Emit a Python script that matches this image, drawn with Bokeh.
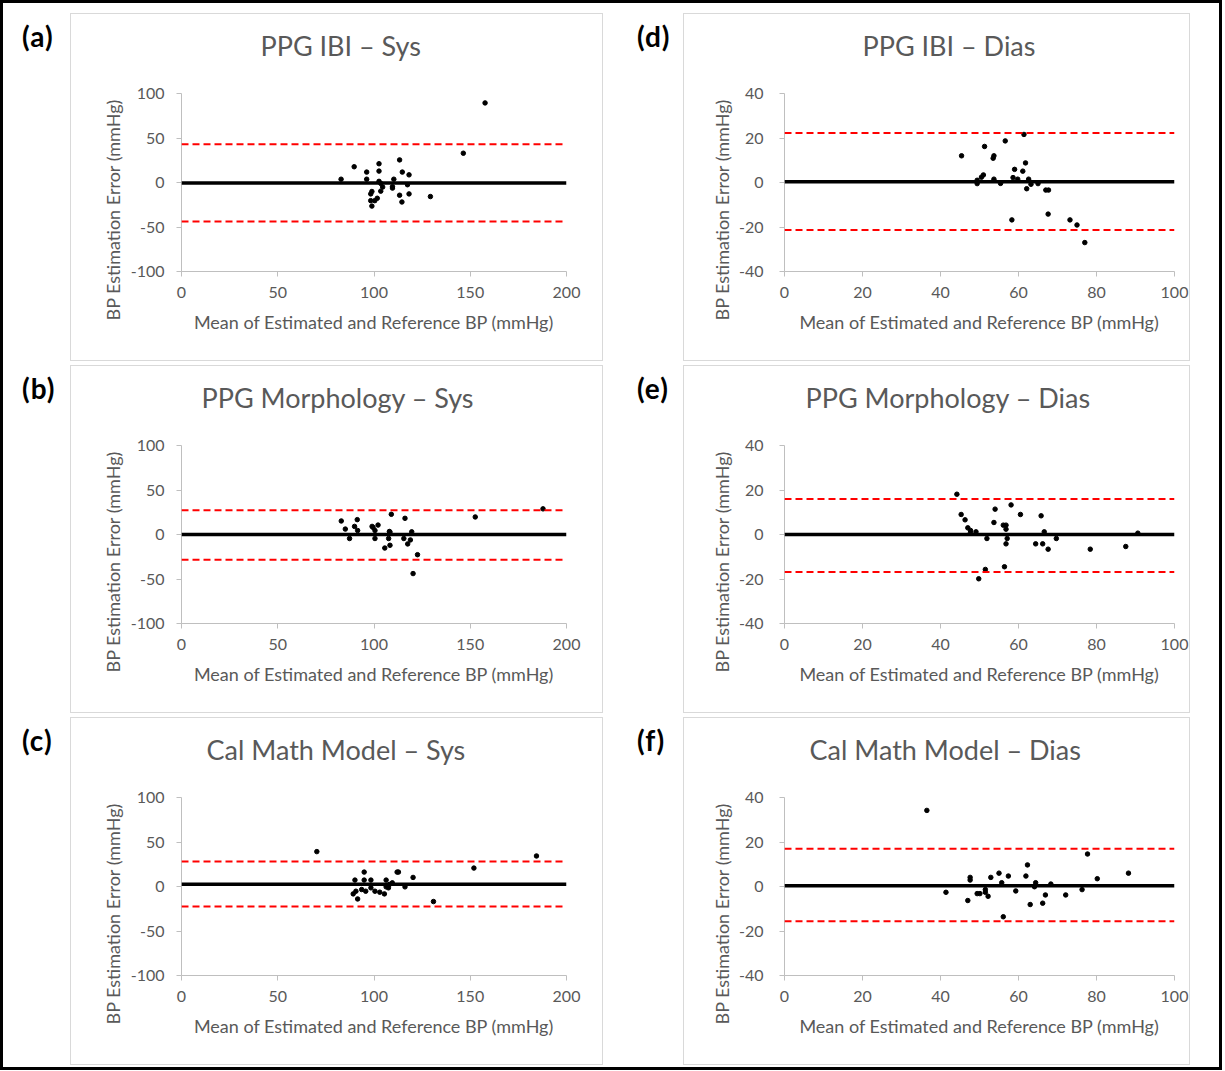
from bokeh.plotting import figure
from bokeh.models import Span, Title, FixedTicker, Div, Spacer
from bokeh.layouts import row, column
from bokeh.embed import file_html
from bokeh.resources import INLINE

# ---------------- data ----------------
titles = ["PPG IBI \u2013 Sys", "PPG Morphology \u2013 Sys", "Cal Math Model \u2013 Sys",
          "PPG IBI \u2013 Dias", "PPG Morphology \u2013 Dias", "Cal Math Model \u2013 Dias"]
panel_tags = ["(a)", "(b)", "(c)", "(d)", "(e)", "(f)"]
x_label = "Mean of Estimated and Reference BP (mmHg)"
y_label = "BP Estimation Error (mmHg)"

sys_x_ticks = [0, 50, 100, 150, 200]
sys_y_ticks = [-100, -50, 0, 50, 100]
dias_x_ticks = [0, 20, 40, 60, 80, 100]
dias_y_ticks = [-40, -20, 0, 20, 40]

a_mean = [157.7, 146.4, 89.7, 82.9, 96.2, 96.2, 102.6, 102.6, 113.3, 114.7, 118.2, 110.3, 102.6, 117.4,
          109.6, 109.6, 104.5, 103.5, 98.9, 98.3, 113.3, 118.2, 129.3, 101.7, 98.3, 100.4, 114.5, 98.9, 103.5]
a_diff = [89.4, 32.9, 17.7, 3.7, 11.7, 3.7, 21.1, 12.8, 25.4, 11.7, 8.6, 3.7, 1.3, -2.5,
          -4.8, -6.3, -5.1, -9.7, -10.1, -12.8, -14.3, -12.8, -15.8, -17.7, -20.4, -20.4, -21.9, -26.5, -1.0]
a_stats = [-0.5, 42.9, -43.9]  # bias, upper LoA, lower LoA

b_mean = [187.8, 152.6, 109.0, 116.1, 83.0, 91.3, 102.1, 99.0, 99.5, 89.9, 85.1, 91.5, 100.5, 108.0,
          108.3, 119.6, 87.3, 100.5, 107.6, 115.5, 118.9, 117.5, 108.3, 105.6, 122.6, 120.3]
b_diff = [28.8, 19.7, 22.7, 18.2, 15.2, 16.7, 10.6, 9.1, 8.0, 9.1, 6.1, 4.5, 4.5, 3.4,
          2.7, 3.0, -4.5, -4.5, -4.5, -4.5, -6.1, -10.6, -12.1, -15.2, -22.7, -43.9]
b_stats = [0.0, 27.3, -28.4]

c_mean = [70.3, 184.4, 151.9, 94.9, 112.0, 112.7, 120.3, 90.1, 94.9, 98.4, 106.3, 109.5, 108.0, 106.3,
          107.5, 116.1, 98.4, 93.6, 95.7, 100.5, 103.0, 105.4, 90.6, 89.2, 91.5, 130.9]
c_diff = [39.2, 34.3, 20.7, 16.2, 16.2, 16.2, 10.2, 7.2, 7.2, 7.2, 7.2, 4.1, 2.3, -0.4,
          -1.5, -0.4, -1.5, -3.4, -5.3, -5.3, -6.4, -8.3, -5.3, -8.3, -14.0, -16.9]
c_stats = [2.5, 28.2, -22.6]

d_mean = [45.4, 51.3, 56.6, 61.4, 53.5, 53.7, 61.8, 59.0, 61.1, 51.0, 50.5, 49.4, 49.4, 53.7,
          55.4, 58.6, 59.8, 62.6, 63.2, 62.1, 65.0, 67.0, 67.7, 67.6, 58.3, 73.2, 75.0, 77.0]
d_diff = [12.0, 16.2, 18.7, 21.6, 10.9, 12.0, 8.8, 5.9, 5.1, 3.4, 2.4, 1.0, -0.5, 1.5,
          -0.4, 2.2, 1.5, 1.5, -0.8, -2.8, -0.5, -3.4, -3.4, -14.2, -16.8, -16.8, -19.1, -27.0]
d_stats = [0.3, 22.2, -21.3]

e_mean = [44.2, 45.3, 46.3, 47.0, 47.7, 49.1, 47.7, 51.9, 54.0, 53.7, 58.1, 56.1, 56.8, 56.8, 57.1,
          56.8, 56.4, 51.5, 49.8, 60.5, 65.8, 66.6, 64.4, 66.2, 67.6, 69.7, 78.4, 87.5, 90.6]
e_diff = [18.1, 9.0, 6.6, 3.0, 1.8, 1.2, 0.9, -1.8, 11.4, 5.4, 13.3, 4.2, 4.2, 2.4, -1.8,
          -4.2, -14.5, -15.7, -19.9, 9.0, 8.4, 1.2, -4.2, -4.2, -6.6, -1.8, -6.6, -5.4, 0.6]
e_stats = [0.0, 15.9, -16.8]

f_mean = [36.5, 77.7, 62.3, 88.2, 80.2, 55.0, 57.4, 61.9, 52.9, 47.6, 47.6, 55.7, 64.4, 68.3, 64.1,
          51.5, 59.3, 76.3, 41.4, 49.4, 50.1, 51.5, 52.2, 66.9, 72.1, 47.0, 66.2, 63.0, 56.1]
f_diff = [34.2, 14.6, 9.7, 6.0, 3.5, 6.0, 4.7, 4.7, 4.1, 4.1, 2.9, 1.7, 1.7, 1.1, -0.1,
          -1.4, -2.0, -1.4, -2.6, -3.2, -3.2, -2.6, -4.4, -3.8, -3.8, -6.3, -7.5, -8.1, -13.6]
f_stats = [0.3, 17.0, -15.6]

# ---------------- styling / layout ----------------
FONT = "Lato"
TXT = "#595959"
AXC = "#bfbfbf"
BOX_H = 348
FRAME_TOP = 79
FRAME_H = 176


def make_panel(title, title_off, xs, ys, stats, xticks, yticks, width, left, frame_w, ystand, ylab_standoff):
    cw, ch = width - 2, BOX_H - 2
    p = figure(width=width, height=BOX_H,
               x_range=(xticks[0], xticks[-1]), y_range=(yticks[0], yticks[-1]),
               output_backend="svg", toolbar_location=None,
               min_border_left=left, min_border_right=cw - left - frame_w,
               min_border_top=FRAME_TOP, min_border_bottom=ch - FRAME_TOP - FRAME_H,
               styles={"border": "1px solid #d9d9d9"})
    p.outline_line_color = None
    p.grid.visible = False

    for ax, ticks in ((p.xaxis, xticks), (p.yaxis, yticks)):
        ax.ticker = FixedTicker(ticks=ticks)
        ax.major_label_overrides = {t: str(t) for t in ticks}
        ax.axis_line_color = AXC
        ax.major_tick_line_color = AXC
        ax.major_tick_out = 5
        ax.major_tick_in = 0
        ax.minor_tick_line_color = None
        ax.major_label_text_font = FONT
        ax.major_label_text_font_size = "16px"
        ax.major_label_text_color = TXT
    p.xaxis.major_label_standoff = 10
    p.yaxis.major_label_standoff = ystand

    p.xaxis.axis_label = x_label
    p.xaxis.axis_label_text_font = FONT
    p.xaxis.axis_label_text_font_size = "18px"
    p.xaxis.axis_label_text_font_style = "normal"
    p.xaxis.axis_label_text_color = TXT
    p.xaxis.axis_label_standoff = 10

    # spacer between frame and chart title, then the chart title itself
    p.add_layout(Title(text=" ", text_font_size="1px", standoff=28), "above")
    p.add_layout(Title(text=title, align="left", offset=title_off, vertical_align="middle",
                       standoff=0, text_font=FONT, text_font_size="27px",
                       text_font_style="normal", text_color=TXT), "above")
    p.add_layout(Title(text=y_label, align="left", offset=-49, vertical_align="middle",
                       standoff=ylab_standoff, text_font=FONT, text_font_size="18px",
                       text_font_style="normal", text_color=TXT), "left")

    bias, upper, lower = stats
    p.add_layout(Span(location=upper, dimension="width", line_color="#ff0000",
                      line_width=2, line_dash="7 4"))
    p.add_layout(Span(location=lower, dimension="width", line_color="#ff0000",
                      line_width=2, line_dash="7 4"))
    p.add_layout(Span(location=bias, dimension="width", line_color="black", line_width=3.5))

    p.scatter(xs, ys, size=4.5, color="black")
    return p


def tag(text, width, pad_left):
    html = ('<div style="font-family:Lato;font-weight:bold;font-size:28px;line-height:1;'
            'letter-spacing:1px;color:#000;padding-top:9px;padding-left:%dpx;">%s</div>'
            % (pad_left, text))
    return Div(text=html, width=width, height=BOX_H, margin=0)


LW, LLEFT, LFW = 533, 110, 383
RW, RLEFT, RFW = 507, 100, 388

pa = make_panel(titles[0], 79, a_mean, a_diff, a_stats, sys_x_ticks, sys_y_ticks, LW, LLEFT, LFW, 12, 6)
pb = make_panel(titles[1], 20, b_mean, b_diff, b_stats, sys_x_ticks, sys_y_ticks, LW, LLEFT, LFW, 12, 6)
pc = make_panel(titles[2], 25, c_mean, c_diff, c_stats, sys_x_ticks, sys_y_ticks, LW, LLEFT, LFW, 12, 6)
pd = make_panel(titles[3], 78, d_mean, d_diff, d_stats, dias_x_ticks, dias_y_ticks, RW, RLEFT, RFW, 16, 4)
pe = make_panel(titles[4], 21, e_mean, e_diff, e_stats, dias_x_ticks, dias_y_ticks, RW, RLEFT, RFW, 16, 4)
pf = make_panel(titles[5], 25, f_mean, f_diff, f_stats, dias_x_ticks, dias_y_ticks, RW, RLEFT, RFW, 16, 4)

W_IN = 1216
rows = []
for lp, rp, lt, rt in ((pa, pd, panel_tags[0], panel_tags[3]),
                       (pb, pe, panel_tags[1], panel_tags[4]),
                       (pc, pf, panel_tags[2], panel_tags[5])):
    rows.append(row(tag(lt, 67, 19), lp, tag(rt, 80, 34), rp,
                    Spacer(width=W_IN - 67 - LW - 80 - RW, height=BOX_H, margin=0), margin=0))

root = column(Spacer(width=W_IN, height=10, margin=0), rows[0],
              Spacer(width=W_IN, height=4, margin=0), rows[1],
              Spacer(width=W_IN, height=4, margin=0), rows[2],
              Spacer(width=W_IN, height=2, margin=0),
              styles={"border": "3px solid black", "background-color": "white"})

open("out.html", "w").write(file_html(root, INLINE))
